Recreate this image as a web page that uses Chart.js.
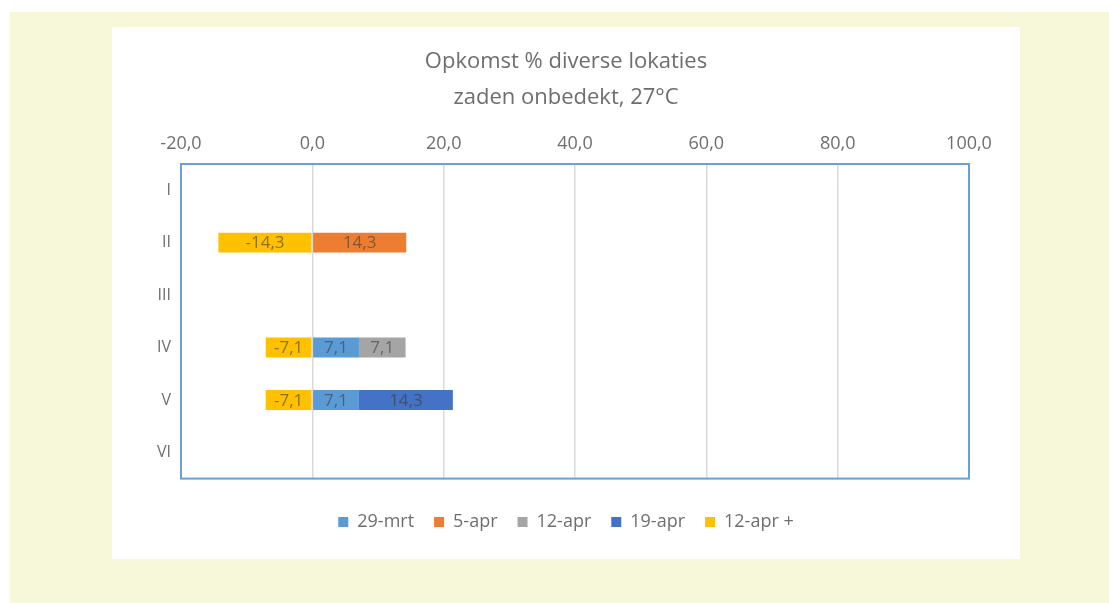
<!DOCTYPE html>
<html>
<head>
<meta charset="utf-8">
<title>Opkomst % diverse lokaties</title>
<script src="https://cdn.jsdelivr.net/npm/chart.js@4.4.1/dist/chart.umd.min.js"></script>
<style>
  body { margin: 0; background: #ffffff; }
  #bg { position: absolute; left: 10px; top: 12px; right: 0; bottom: 0; background: #f7f7da; }
  #box { position: absolute; left: 112px; top: 27px; width: 908px; height: 532px; background: #ffffff; }
  canvas { display: block; }
</style>
</head>
<body>
<div id="bg"></div>
<div id="box"><canvas id="graph" width="908" height="532"></canvas></div>
<script>
// categories (locaties)
let locaties = ["I", "II", "III", "IV", "V", "VI"];

// series values, null = no bar
let mrt29 = [null, null, null, 7.1, 7.1, null];
let apr5 = [null, 14.3, null, null, null, null];
let apr12 = [null, null, null, 7.1, null, null];
let apr19 = [null, null, null, null, 14.3, null];
let apr12plus = [null, -14.3, null, -7.1, -7.1, null];

let seriesNames = ["29-mrt", "5-apr", "12-apr", "19-apr", "12-apr +"];
let seriesColors = ["#5b9bd5", "#ed7d31", "#a5a5a5", "#4472c4", "#ffc000"];

// x axis ticks
let xMin = -20;
let xMax = 100;
let xStep = 20;

let titleLines = ["Opkomst % diverse lokaties", "zaden onbedekt, 27°C"];

const fontFamily = "'Open Sans', sans-serif";
const grey = "#6e6e6e";

function fmt(v) {
  return v.toFixed(1).replace(".", ",");
}

// blue frame round the plot area
const frame = {
  id: "frame",
  afterDatasetsDraw(chart) {
    let a = chart.chartArea;
    let ctx = chart.ctx;
    ctx.save();
    ctx.strokeStyle = "#6a9fd8";
    ctx.lineWidth = 2;
    ctx.strokeRect(a.left, a.top, a.right - a.left, a.bottom - a.top);
    ctx.restore();
  }
};

// value labels in the middle of each bar
const barLabels = {
  id: "barLabels",
  afterDraw(chart) {
    let ctx = chart.ctx;
    ctx.save();
    ctx.font = "17px " + fontFamily;
    ctx.fillStyle = "rgba(60,60,60,0.6)";
    ctx.textAlign = "center";
    ctx.textBaseline = "middle";
    chart.data.datasets.forEach((ds, i) => {
      let meta = chart.getDatasetMeta(i);
      meta.data.forEach((bar, j) => {
        let v = ds.data[j];
        if (v === null || v === undefined) return;
        let p = bar.getProps(["x", "y", "base"], true);
        ctx.fillText(fmt(v), (p.x + p.base) / 2, p.y + 1);
      });
    });
    ctx.restore();
  }
};

let allSeries = [mrt29, apr5, apr12, apr19, apr12plus];

const data = {
  labels: locaties,
  datasets: allSeries.map((s, i) => ({
    label: seriesNames[i],
    data: s,
    backgroundColor: seriesColors[i],
    borderWidth: 0,
    barPercentage: 0.38,
    categoryPercentage: 1.0
  }))
};

const config = {
  type: "bar",
  data: data,
  options: {
    indexAxis: "y",
    responsive: false,
    animation: false,
    devicePixelRatio: 1,
    layout: { padding: { left: 0, right: 0, top: 0, bottom: 18 } },
    scales: {
      x: {
        position: "top",
        stacked: true,
        min: xMin,
        max: xMax,
        ticks: {
          stepSize: xStep,
          padding: 9,
          color: grey,
          font: { family: fontFamily, size: 18 },
          callback: v => fmt(v)
        },
        grid: { color: "#d9d9d9", lineWidth: 1.5, drawTicks: false },
        border: { display: false },
        afterFit: s => { s.height = 44; }
      },
      y: {
        stacked: true,
        ticks: {
          padding: 10,
          color: grey,
          font: { family: fontFamily, size: 16 }
        },
        grid: { display: false, drawTicks: false },
        border: { display: false },
        afterFit: s => { s.width = 69; }
      },
      // empty strip on the right so title and legend stay centred on the box
      yRight: {
        type: "category",
        position: "right",
        ticks: { display: false },
        grid: { display: false, drawTicks: false },
        border: { display: false },
        afterFit: s => { s.width = 51; }
      }
    },
    plugins: {
      title: {
        display: true,
        text: titleLines,
        color: grey,
        font: { family: fontFamily, size: 22, weight: "normal", lineHeight: 36 / 22 },
        padding: { top: 17, bottom: 4 }
      },
      legend: {
        position: "bottom",
        title: { display: true, text: "", padding: { top: 0, bottom: 0 } },
        labels: {
          boxWidth: 10,
          boxHeight: 10,
          padding: 20,
          color: grey,
          font: { family: fontFamily, size: 18 }
        }
      },
      tooltip: { enabled: false }
    }
  },
  plugins: [frame, barLabels]
};

new Chart(document.getElementById("graph"), config);
</script>
</body>
</html>
